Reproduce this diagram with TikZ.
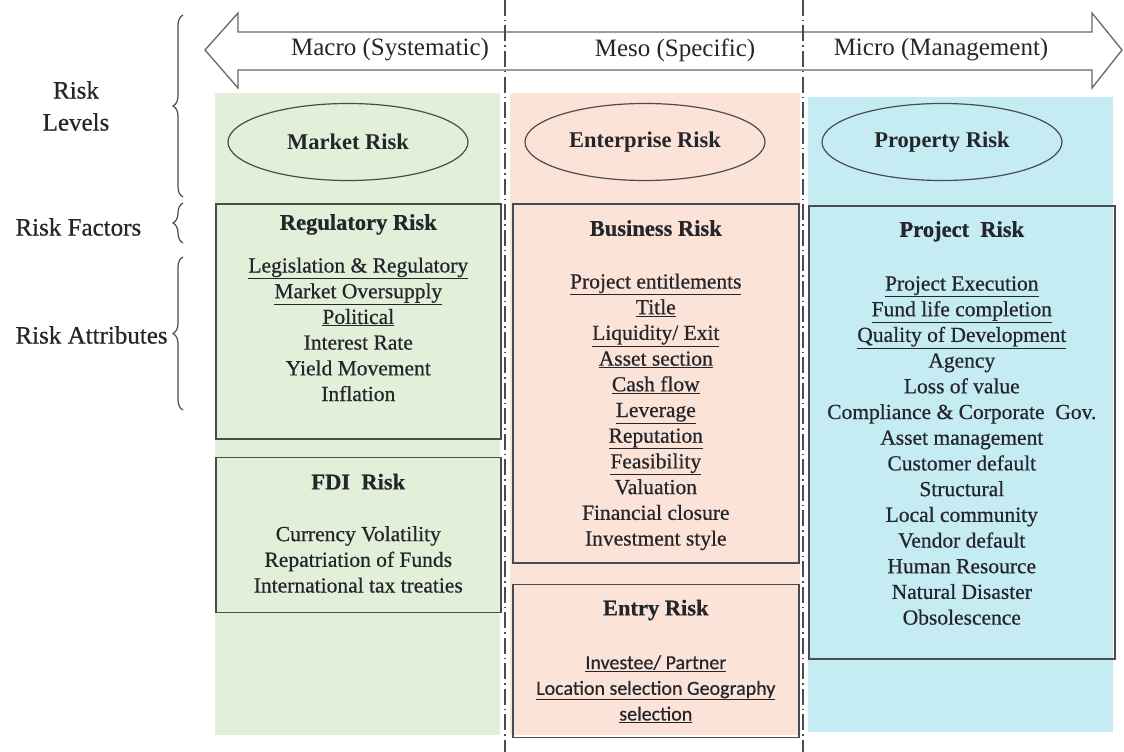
\documentclass[tikz,border=0pt]{standalone}
\usepackage{fontspec}
\setmainfont{Liberation Serif}
\newfontfamily\heavy{Liberation Serif}[FakeBold=0.6]
\newfontfamily\calib{Carlito}[FakeBold=0.4]
\usetikzlibrary{positioning,shapes.geometric,decorations.pathreplacing}
\definecolor{macrogreen}{RGB}{226,239,217}
\definecolor{mesopink}{RGB}{251,227,215}
\definecolor{microblue}{RGB}{197,235,243}
\definecolor{inkgray}{RGB}{36,38,44}
\definecolor{linegray}{RGB}{74,76,80}
\newcommand\riskhead[1]{{\bfseries\fontsize{22.5}{25.7}\selectfont #1}}

\begin{document}
\begin{tikzpicture}[
  x=1pt, y=-1pt,
  column/.style={fill=#1},
  level/.style={ellipse, draw=linegray, line width=1.2pt, minimum width=240pt, minimum height=77pt, text=inkgray, font=\bfseries\fontsize{22.5}{26}\selectfont},
  riskbox/.style={rectangle, draw=linegray, line width=1.6pt, inner sep=0pt},
  attrs/.style={align=center, anchor=north, inner sep=0pt, text=inkgray, font=\heavy\fontsize{21.5}{25.7}\selectfont},
  tier/.style={text=inkgray, font=\fontsize{25}{30}\selectfont},
  side/.style={align=center, text=inkgray, font=\heavy\fontsize{25}{32}\selectfont},
  divider/.style={draw=linegray, line width=1.8pt, dash pattern=on 16pt off 4pt on 1.5pt off 4pt},
  bracket/.style={draw=linegray, line width=1.2pt, decorate, decoration={brace, amplitude=10pt}}
]
\useasboundingbox (0,0) rectangle (1124,752);

\fill[column=macrogreen] (215,93) rectangle (500,735);
\fill[column=mesopink] (510,93) rectangle (800,735);
\fill[column=microblue] (808,97) rectangle (1113,732);

\draw[draw=linegray!85, line width=1.3pt, fill=white] (205,50) -- (238,13) -- (238,32) -- (1092,32) -- (1092,13) -- (1122,50)
  -- (1092,88) -- (1092,70) -- (238,70) -- (238,88) -- cycle;

\draw[divider] (505,0) -- (505,752);
\draw[divider] (803,0) -- (803,752);

\node[tier] (macro) at (390,50) {Macro (Systematic)};
\node[tier] (meso) at (675,50) {Meso (Specific)};
\node[tier] (micro) at (941,50) {Micro (Management)};

\node[side] (levels) at (76,106) {Risk\\Levels};
\node[side, anchor=west] (factors) at (12,227) {Risk Factors};
\node[side, anchor=west] (attributes) at (12,335) {Risk Attributes};
\draw[bracket] (183,197) -- (183,15);
\draw[bracket] (183,243) -- (183,203);
\draw[bracket] (183,410) -- (183,257);

\node[level] (market) at (348,142) {Market Risk};
\node[level] (enterprise) at (645,142) {Enterprise Risk};
\node[level] (property) at (942,142) {Property Risk};

\node[riskbox, anchor=north west, minimum width=285pt, minimum height=235pt] (regulatory) at (215,203) {};
\node[riskbox, below=17pt of regulatory, minimum width=285pt, minimum height=155pt] (fdi) {};
\node[riskbox, anchor=north west, minimum width=286pt, minimum height=359pt] (business) at (512,203) {};
\node[riskbox, below=20pt of business, minimum width=286pt, minimum height=153pt] (entry) {};
\node[riskbox, anchor=north west, minimum width=306pt, minimum height=453pt] (project) at (808,205) {};

\node[attrs, below=11pt of regulatory.north] (regitems) {\riskhead{Regulatory Risk}\\[17pt]
  \underline{Legislation \& Regulatory}\\ \underline{Market Oversupply}\\ \underline{Political}\\
  Interest Rate\\ Yield Movement\\ Inflation};
\node[attrs, below=17pt of fdi.north] (fdiitems) {\riskhead{FDI~ Risk}\\[26pt]
  Currency Volatility\\ Repatriation of Funds\\ International tax treaties};
\node[attrs, below=17pt of business.north] (busitems) {\riskhead{Business Risk}\\[27pt]
  \underline{Project entitlements}\\ \underline{Title}\\ \underline{Liquidity/ Exit}\\ \underline{Asset section}\\
  \underline{Cash flow}\\ \underline{Leverage}\\ \underline{Reputation}\\ \underline{Feasibility}\\
  Valuation\\ Financial closure\\ Investment style};
\node[attrs, below=16pt of entry.north] (entryitems) {\riskhead{Entry Risk}\\[28pt]
  {\calib\fontsize{20}{25.7}\selectfont\underline{Investee/ Partner}}\\
  {\calib\fontsize{20}{25.7}\selectfont\underline{Location selection Geography}}\\
  {\calib\fontsize{20}{25.7}\selectfont\underline{selection}}};
\node[attrs, below=16pt of project.north] (projitems) {\riskhead{Project~ Risk}\\[28pt]
  \underline{Project Execution}\\ \underline{Fund life completion}\\ \underline{Quality of Development}\\
  Agency\\ Loss of value\\ Compliance \& Corporate~ Gov.\\ Asset management\\ Customer default\\
  Structural\\ Local community\\ Vendor default\\ Human Resource\\ Natural Disaster\\ Obsolescence};
\end{tikzpicture}
\end{document}
